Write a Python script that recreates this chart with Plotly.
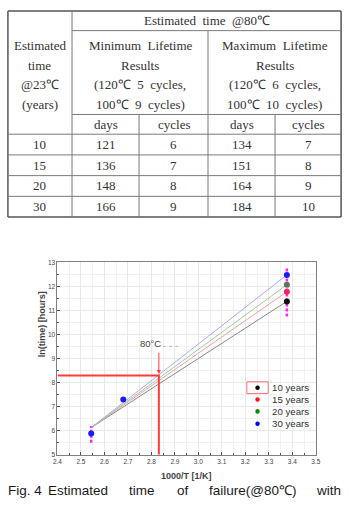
import plotly.graph_objects as go

W, H = 349, 514

# ---------------- table data ----------------
years = [10, 15, 20, 30]
min_days = [121, 136, 148, 166]
min_cycles = [6, 7, 8, 9]
max_days = [134, 151, 164, 184]
max_cycles = [7, 8, 9, 10]
left_head = ["Estimated", "time", "@23℃", "(years)"]
min_head = ["Minimum  Lifetime", "Results", "(120℃  5  cycles,", "100℃  9  cycles)"]
max_head = ["Maximum  Lifetime", "Results", "(120℃  6  cycles,", "100℃  10  cycles)"]
top_head = "Estimated  time  @80℃"
sub_head = ["days", "cycles", "days", "cycles"]

# ---------------- chart data ----------------
series_names = ["10 years", "15 years", "20 years", "30 years"]
x_23C = 3.3767
x_100C = 2.6802
x_120C = 2.5436
x_80C = 2.8317
ln_time_23C = [11.38, 11.78, 12.07, 12.48]
fit_start_ln = 6.13
blue_x = [2.5436, 2.6802]
blue_y = [5.88, 7.30]
ln_time_80C = 8.30
bar_120C = [5.50, 6.20]
bar_23C = [10.75, 12.80]
x_ticks = [2.4, 2.5, 2.6, 2.7, 2.8, 2.9, 3.0, 3.1, 3.2, 3.3, 3.4, 3.5]
y_ticks = [5, 6, 7, 8, 9, 10, 11, 12, 13]

point_colors = ["#111111", "#ff2255", "#5b735b", "#1a1aff"]
legend_colors = ["#000000", "#ff1010", "#0a8a0a", "#0000ff"]
line_colors = ["#8a8a8a", "#f4a0a0", "#9ccc9c", "#a8a8ff"]

fig = go.Figure()

# fitted lines
for i, name in enumerate(series_names):
    fig.add_trace(go.Scatter(x=[x_120C, x_23C], y=[fit_start_ln, ln_time_23C[i]],
                             mode="lines", line=dict(color=line_colors[i], width=1),
                             showlegend=False, hoverinfo="skip"))
# red reference lines
fig.add_trace(go.Scatter(x=[x_ticks[0], x_80C, x_80C], y=[ln_time_80C, ln_time_80C, y_ticks[0]],
                         mode="lines", line=dict(color="#ff3b3b", width=2),
                         showlegend=False, hoverinfo="skip"))
# magenta dashed bars
fig.add_trace(go.Scatter(x=[x_120C, x_120C], y=bar_120C, mode="lines",
                         line=dict(color="#ff22ff", width=2.5, dash="3px,2px"), showlegend=False))
fig.add_trace(go.Scatter(x=[x_23C, x_23C], y=bar_23C, mode="lines",
                         line=dict(color="#ff22ff", width=2.5, dash="3px,2px"), showlegend=False))
# points at 23C
for i, name in enumerate(series_names):
    fig.add_trace(go.Scatter(x=[x_23C], y=[ln_time_23C[i]], mode="markers",
                             marker=dict(color=point_colors[i], size=6), name=name,
                             showlegend=False))
# blue measured points
fig.add_trace(go.Scatter(x=blue_x, y=blue_y, mode="markers",
                         marker=dict(color="#1a1aff", size=6), showlegend=False))

x0p, x1p, y0p, y1p = 54, 320, 262, 457
tickfont = dict(family="Liberation Sans, Arial", size=6.5, color="#444")
fig.update_xaxes(domain=[x0p / W, x1p / W], range=[2.4, 3.5], tickvals=x_ticks,
                 ticktext=[f"{v:.1f}" for v in x_ticks], ticks="inside", ticklen=3,
                 tickcolor="#555", tickfont=tickfont, showgrid=True, gridcolor="#e9e9e9",
                 gridwidth=1, minor=dict(dtick=0.05, ticks="inside", ticklen=2, tickcolor="#555",
                                         showgrid=True, gridcolor="#f1f1f1"),
                 showline=True, linecolor="#808080", linewidth=1, mirror=True, zeroline=False)
fig.update_yaxes(domain=[1 - y1p / H, 1 - y0p / H], range=[5, 13], tickvals=y_ticks,
                 ticks="inside", ticklen=3, tickcolor="#555", tickfont=tickfont,
                 showgrid=True, gridcolor="#e9e9e9",
                 minor=dict(dtick=0.5, ticks="inside", ticklen=2, tickcolor="#555",
                            showgrid=True, gridcolor="#f1f1f1"),
                 showline=True, linecolor="#808080", linewidth=1, mirror=True, zeroline=False)

shapes = []
ann = []

def px(x):
    return x / W

def py(y):
    return 1 - y / H

def line(x0, y0, x1, y1, color="#7a7a7a", width=1):
    shapes.append(dict(type="line", xref="paper", yref="paper", x0=px(x0), y0=py(y0),
                       x1=px(x1), y1=py(y1), line=dict(color=color, width=width)))

def text(x, y, t, size=13, family="Liberation Serif, Times New Roman", color="#333",
         xanchor="center"):
    ann.append(dict(x=px(x), y=py(y), xref="paper", yref="paper", text=t, showarrow=False,
                    xanchor=xanchor, yanchor="middle",
                    font=dict(family=family, size=size, color=color)))

# ---------------- table ----------------
TL, TR, TT, TB = 3, 346, 7, 216
c1, cmid = 69, 209
csub = [138, 278]
r_top = 27
r_head = 112
row_lines = [132, 153, 174, 195]
line(TL, TT, TR, TT, "#555", 1.5)
line(TL, TB, TR, TB, "#555", 1.5)
line(TL, TT, TL, TB, "#555", 1.5)
line(TR, TT, TR, TB, "#555", 1.5)
line(c1, TT, c1, TB)
line(c1, r_top, TR, r_top)
line(cmid, r_top, cmid, TB)
line(c1, r_head, TR, r_head)
for cx in csub:
    line(cx, r_head, cx, TB)
for ry in row_lines:
    line(TL, ry, TR, ry)

text((c1 + TR) / 2, 17, top_head)
head_y = [42, 62, 82, 102]
for j in range(4):
    text((TL + c1) / 2, head_y[j], left_head[j])
    text((c1 + cmid) / 2, head_y[j], min_head[j])
    text((cmid + TR) / 2, head_y[j], max_head[j])
col_centers = [(c1 + csub[0]) / 2, (csub[0] + cmid) / 2, (cmid + csub[1]) / 2, (csub[1] + TR) / 2]
for k, s in enumerate(sub_head):
    text(col_centers[k], (r_head + row_lines[0]) / 2, s)
row_edges = row_lines + [TB]
for i in range(len(years)):
    yc = (row_edges[i] + row_edges[i + 1]) / 2
    text((TL + c1) / 2, yc, str(years[i]))
    for k, v in enumerate([min_days[i], min_cycles[i], max_days[i], max_cycles[i]]):
        text(col_centers[k], yc, str(v))

# ---------------- chart decorations ----------------
sans = "Liberation Sans, Arial"
ann.append(dict(x=px(31), y=py(360), xref="paper", yref="paper", text="<b>ln(time) [hours]</b>",
                showarrow=False, textangle=-90, font=dict(family=sans, size=9, color="#444")))
text((x0p + x1p) / 2, 479, "<b>1000/T [1/K]</b>", size=9, family=sans, color="#444")

# 80C label and arrow
ann.append(dict(x=2.797, y=9.62, xref="x", yref="y", text="80°C", showarrow=False,
                font=dict(family=sans, size=9.5, color="#444")))
ann.append(dict(x=x_80C, y=8.36, ax=x_80C, ay=9.3, xref="x", yref="y", axref="x", ayref="y",
                text="", showarrow=True, arrowhead=2, arrowsize=0.8, arrowwidth=1,
                arrowcolor="#ff3b3b"))
shapes.append(dict(type="line", xref="x", yref="y", x0=2.85, x1=2.92, y0=9.51, y1=9.51,
                   line=dict(color="#bbbbbb", width=1, dash="dot")))

# legend
leg_y = [389, 401, 413, 425.5]
shapes.append(dict(type="rect", xref="paper", yref="paper", x0=px(249), x1=px(271),
                   y0=py(395), y1=py(383), line=dict(color="#ff7070", width=1)))
for i, name in enumerate(series_names):
    r = 2.3
    shapes.append(dict(type="circle", xref="paper", yref="paper", x0=px(260 - r), x1=px(260 + r),
                       y0=py(leg_y[i] + r), y1=py(leg_y[i] - r),
                       fillcolor=legend_colors[i], line=dict(width=0)))
    text(273, leg_y[i], name, size=9.7, family=sans, color="#333", xanchor="left")

# caption (justified line)
cap_words = ["Fig. 4", "Estimated", "time", "of", "failure(@80℃)", "with"]
cap_x = [1, 42, 126, 175, 208, 348]
for w, xx in zip(cap_words, cap_x):
    text(xx, 493, w, size=13.5, family=sans, color="#1a1a1a",
         xanchor="right" if w == "with" else "left")

fig.update_layout(width=W, height=H, margin=dict(l=0, r=0, t=0, b=0),
                  paper_bgcolor="white", plot_bgcolor="white", showlegend=False,
                  shapes=shapes, annotations=ann)
fig.write_html("out.html")
